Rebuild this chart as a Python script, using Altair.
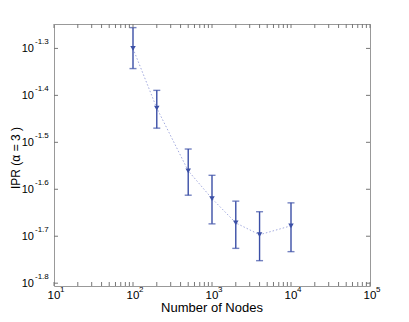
import altair as alt
import pandas as pd

# ---- data ----
nodes = [100, 200, 500, 1000, 2000, 4000, 10000]
ipr = [0.0501, 0.0374, 0.0275, 0.0240, 0.0213, 0.0201, 0.0210]
ipr_lo = [0.0454, 0.0339, 0.0244, 0.0212, 0.0188, 0.0177, 0.0185]
ipr_hi = [0.0555, 0.0408, 0.0306, 0.0269, 0.0237, 0.0225, 0.0235]

x_major = [10, 100, 1000, 10000, 100000]
x_major_exp = ["1", "2", "3", "4", "5"]
y_major_exp = ["-1.3", "-1.4", "-1.5", "-1.6", "-1.7", "-1.8"]
x_title = ["Number of Nodes"]
y_title = ["IPR (α = 3 )"]

W, H = 316, 262
FONT = "Liberation Sans"
BLUE = "#3b4fa6"

x_grid = [k * 10 ** e for e in range(1, 5) for k in range(1, 10)] + [100000]
y_major = [10 ** float(e) for e in y_major_exp]

xs = alt.Scale(type="log", domain=[10, 100000])
ys = alt.Scale(type="log", domain=[10 ** -1.806, 10 ** -1.248])

df = pd.DataFrame({"n": nodes, "ipr": ipr, "lo": ipr_lo, "hi": ipr_hi})
xt = pd.DataFrame({"v": x_major, "e": x_major_exp})
yt = pd.DataFrame({"v": y_major, "e": y_major_exp})
xg = pd.DataFrame({"v": x_grid})

line = alt.Chart(df).mark_line(color="#a3aadf", strokeDash=[1.5, 2], strokeWidth=1).encode(
    x=alt.X("n:Q", scale=xs, axis=alt.Axis(
        values=x_grid, labels=False, ticks=False, grid=True, gridDash=[1, 2],
        gridColor="#b0b0b0", gridWidth=1, domainColor="#777", title=None)),
    y=alt.Y("ipr:Q", scale=ys, axis=alt.Axis(
        values=y_major, labels=False, ticks=False, grid=True, gridDash=[1, 2],
        gridColor="#b0b0b0", gridWidth=1, domainColor="#777", title=None)),
)

bars = alt.Chart(df).mark_rule(color=BLUE, strokeWidth=1.4).encode(
    x=alt.X("n:Q", scale=xs, axis=None),
    y=alt.Y("lo:Q", scale=ys, axis=None),
    y2="hi:Q",
)
cap_lo = alt.Chart(df).mark_tick(color=BLUE, orient="horizontal", size=7, thickness=1.4).encode(
    x=alt.X("n:Q", scale=xs, axis=None),
    y=alt.Y("lo:Q", scale=ys, axis=None),
)
cap_hi = alt.Chart(df).mark_tick(color=BLUE, orient="horizontal", size=7, thickness=1.4).encode(
    x=alt.X("n:Q", scale=xs, axis=None),
    y=alt.Y("hi:Q", scale=ys, axis=None),
)
pts = alt.Chart(df).mark_point(shape="triangle-down", filled=True, color=BLUE, size=30, opacity=1).encode(
    x=alt.X("n:Q", scale=xs, axis=None),
    y=alt.Y("ipr:Q", scale=ys, axis=None),
)

# inside ticks
tick_c = "#777"
xt_top = alt.Chart(xg).mark_rule(color=tick_c, strokeWidth=1).encode(
    x=alt.X("v:Q", scale=xs, axis=None), y=alt.value(0), y2=alt.value(4))
xt_bot = alt.Chart(xg).mark_rule(color=tick_c, strokeWidth=1).encode(
    x=alt.X("v:Q", scale=xs, axis=None), y=alt.value(H), y2=alt.value(H - 4))
yt_l = alt.Chart(yt).mark_rule(color=tick_c, strokeWidth=1).encode(
    y=alt.Y("v:Q", scale=ys, axis=None), x=alt.value(0), x2=alt.value(4))
yt_r = alt.Chart(yt).mark_rule(color=tick_c, strokeWidth=1).encode(
    y=alt.Y("v:Q", scale=ys, axis=None), x=alt.value(W), x2=alt.value(W - 4))

# tick labels as 10 + superscript exponent
x_ten = alt.Chart(xt).mark_text(text="10", font=FONT, fontSize=11.5, align="center", baseline="middle", color="black").encode(
    x=alt.X("v:Q", scale=xs, axis=None), y=alt.value(H + 10))
x_exp = alt.Chart(xt).mark_text(font=FONT, fontSize=8, align="left", baseline="middle", dx=6, color="black").encode(
    x=alt.X("v:Q", scale=xs, axis=None), y=alt.value(H + 4), text="e:N")
y_ten = alt.Chart(yt).mark_text(text="10", font=FONT, fontSize=11, align="right", baseline="middle", dy=1, color="black").encode(
    y=alt.Y("v:Q", scale=ys, axis=None), x=alt.value(-20))
y_exp = alt.Chart(yt).mark_text(font=FONT, fontSize=8, align="left", baseline="middle", dy=-6, color="black").encode(
    y=alt.Y("v:Q", scale=ys, axis=None), x=alt.value(-19), text="e:N")

# axis titles
xtl = alt.Chart(pd.DataFrame({"t": x_title})).mark_text(
    font=FONT, fontSize=13, align="center", baseline="alphabetic", color="black").encode(
    text="t:N", x=alt.value(W / 2), y=alt.value(H + 26))
ytl = alt.Chart(pd.DataFrame({"t": y_title})).mark_text(
    font=FONT, fontSize=12, align="center", baseline="alphabetic", angle=270, color="black").encode(
    text="t:N", x=alt.value(-34), y=alt.value(134))

chart = alt.layer(
    line, bars, cap_lo, cap_hi, pts, xt_top, xt_bot, yt_l, yt_r,
    x_ten, x_exp, y_ten, y_exp, xtl, ytl
).properties(
    width=W, height=H,
    autosize=alt.AutoSizeParams(type="none"),
    padding={"left": 46, "top": 16, "right": 20, "bottom": 28},
).configure_view(stroke="#999", strokeWidth=1)

chart.save("out.html", embed_options={"renderer": "svg", "actions": False})
